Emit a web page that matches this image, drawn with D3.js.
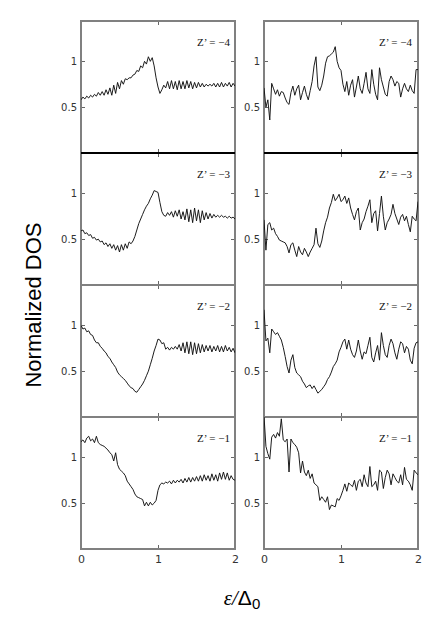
<!DOCTYPE html>
<html lang="en">

<head>
  <meta charset='utf-8'>
  <script src='https://d3js.org/d3.v7.min.js'></script>
  <title></title>
  <style>
    body {
      margin: 0;
      background: #fff;
    }

    /* Settings for axes. */

    .axis path {
      display: none;
    }

    .axis line {
      stroke: #666;
      stroke-width: 1px;
      shape-rendering: crispEdges;
    }

    .axis text {
      font-family: 'DejaVu Sans', sans-serif;
      font-size: 10px;
      fill: #333;
    }

    .frame {
      fill: none;
      stroke: #808080;
      stroke-width: 1.2px;
      shape-rendering: crispEdges;
    }

    .curve {
      fill: none;
      stroke: #111;
      stroke-width: 0.95px;
      stroke-linejoin: round;
    }

    .zlabel {
      font-family: 'Liberation Serif', serif;
      font-size: 11px;
      fill: #111;
    }
  </style>
</head>

<body>
  <div id='chart'></div>
  <script>
    // Tick labels and panel labels.

    var energyTicks = [0, 1, 2];
    var dosTicks = [0.5, 1];
    var panelLabels = ['Z\u2019 = \u22124', 'Z\u2019 = \u22123', 'Z\u2019 = \u22122', 'Z\u2019 = \u22121'];

    // Normalized DOS sampled every 0.025 in energy, from 0 to 2.

    var leftZ4 = [0.58, 0.61, 0.59, 0.62, 0.60, 0.63, 0.61, 0.64, 0.62, 0.66, 0.63, 0.67, 0.63, 0.69, 0.64, 0.71,
      0.63, 0.74, 0.65, 0.77, 0.70, 0.79, 0.75, 0.81, 0.80, 0.82, 0.82, 0.85, 0.86, 0.90, 0.89, 0.95, 0.93, 1.00,
      0.97, 1.05, 1.00, 1.04, 0.95, 0.82, 0.72, 0.65, 0.69, 0.74, 0.71, 0.78, 0.70, 0.79, 0.70, 0.78, 0.69, 0.79,
      0.70, 0.78, 0.70, 0.79, 0.71, 0.78, 0.70, 0.77, 0.71, 0.77, 0.72, 0.76, 0.72, 0.75, 0.73, 0.75, 0.73, 0.76,
      0.72, 0.76, 0.72, 0.77, 0.72, 0.76, 0.73, 0.77, 0.72, 0.76, 0.73];

    var rightZ4 = [0.71, 0.50, 0.58, 0.36, 0.76, 0.70, 0.64, 0.69, 0.62, 0.67, 0.66, 0.60, 0.55, 0.53, 0.66, 0.73,
      0.63, 0.70, 0.74, 0.58, 0.66, 0.73, 0.64, 0.58, 0.68, 0.78, 0.95, 1.05, 0.72, 0.68, 0.74, 0.84, 0.98, 1.05,
      1.06, 1.08, 1.10, 1.16, 1.00, 0.93, 0.90, 0.75, 0.67, 0.78, 0.63, 0.74, 0.80, 0.61, 0.72, 0.84, 0.70, 0.65,
      0.76, 0.88, 0.70, 0.65, 0.91, 0.75, 0.64, 0.58, 0.93, 0.80, 0.72, 0.64, 0.62, 0.78, 0.84, 0.80, 0.73, 0.78,
      0.76, 0.61, 0.70, 0.76, 0.70, 0.67, 0.74, 0.68, 0.65, 0.91, 0.91];

    var leftZ3 = [0.59, 0.60, 0.56, 0.57, 0.54, 0.55, 0.51, 0.52, 0.49, 0.50, 0.47, 0.48, 0.44, 0.46, 0.42, 0.45,
      0.40, 0.44, 0.38, 0.43, 0.36, 0.44, 0.38, 0.45, 0.40, 0.47, 0.45, 0.48, 0.53, 0.60, 0.67, 0.72, 0.77, 0.82,
      0.86, 0.89, 0.94, 0.98, 1.03, 1.02, 1.01, 0.90, 0.80, 0.76, 0.75, 0.79, 0.76, 0.80, 0.74, 0.81, 0.75, 0.82,
      0.72, 0.80, 0.71, 0.83, 0.69, 0.82, 0.68, 0.84, 0.70, 0.82, 0.68, 0.81, 0.71, 0.79, 0.72, 0.78, 0.73, 0.77,
      0.74, 0.76, 0.74, 0.76, 0.74, 0.75, 0.73, 0.75, 0.73, 0.74, 0.72];

    var rightZ3 = [0.71, 0.38, 0.66, 0.68, 0.60, 0.62, 0.56, 0.53, 0.49, 0.48, 0.47, 0.46, 0.42, 0.35, 0.44, 0.46,
      0.38, 0.31, 0.42, 0.36, 0.33, 0.40, 0.36, 0.31, 0.36, 0.40, 0.44, 0.62, 0.45, 0.41, 0.48, 0.59, 0.68, 0.74,
      0.84, 0.90, 0.99, 0.92, 0.95, 0.99, 0.91, 0.93, 0.97, 0.89, 0.95, 0.84, 0.77, 0.71, 0.80, 0.84, 0.60, 0.68,
      0.72, 0.80, 0.86, 0.93, 0.68, 0.78, 0.81, 0.59, 0.78, 0.97, 0.75, 0.60, 0.68, 0.72, 0.77, 0.88, 0.78, 0.72,
      0.66, 0.74, 0.77, 0.70, 0.75, 0.66, 0.58, 0.75, 0.72, 0.70, 0.91];

    var leftZ2 = [1.00, 0.96, 0.97, 0.93, 0.94, 0.90, 0.89, 0.84, 0.81, 0.81, 0.77, 0.75, 0.72, 0.70, 0.66, 0.64,
      0.60, 0.57, 0.54, 0.49, 0.46, 0.44, 0.42, 0.40, 0.37, 0.34, 0.32, 0.31, 0.28, 0.27, 0.30, 0.33, 0.36, 0.40,
      0.45, 0.50, 0.57, 0.64, 0.72, 0.78, 0.85, 0.84, 0.80, 0.81, 0.74, 0.76, 0.73, 0.76, 0.74, 0.77, 0.74, 0.79,
      0.72, 0.81, 0.70, 0.82, 0.69, 0.82, 0.68, 0.81, 0.69, 0.80, 0.70, 0.79, 0.71, 0.78, 0.72, 0.78, 0.71, 0.77,
      0.72, 0.78, 0.71, 0.77, 0.71, 0.78, 0.72, 0.76, 0.71, 0.75, 0.70];

    var rightZ2 = [1.17, 0.83, 0.86, 0.70, 0.96, 0.93, 0.90, 0.92, 0.88, 0.84, 0.76, 0.66, 0.55, 0.48, 0.62, 0.68,
      0.54, 0.48, 0.46, 0.44, 0.39, 0.36, 0.32, 0.34, 0.35, 0.31, 0.34, 0.30, 0.26, 0.28, 0.30, 0.33, 0.36, 0.41,
      0.44, 0.49, 0.55, 0.58, 0.62, 0.71, 0.76, 0.82, 0.85, 0.74, 0.84, 0.74, 0.68, 0.65, 0.72, 0.84, 0.72, 0.63,
      0.71, 0.69, 0.78, 0.87, 0.65, 0.60, 0.70, 0.78, 0.62, 0.92, 0.78, 0.68, 0.65, 0.78, 0.85, 0.80, 0.70, 0.63,
      0.74, 0.82, 0.80, 0.70, 0.77, 0.74, 0.62, 0.58, 0.75, 0.81, 0.82];

    var leftZ1 = [1.17, 1.19, 1.16, 1.21, 1.23, 1.18, 1.20, 1.16, 1.23, 1.16, 1.14, 1.13, 1.12, 1.10, 1.08, 1.05,
      1.03, 0.96, 1.05, 0.92, 0.87, 0.85, 0.83, 0.80, 0.74, 0.71, 0.68, 0.65, 0.60, 0.57, 0.56, 0.55, 0.54, 0.47,
      0.51, 0.47, 0.51, 0.48, 0.50, 0.53, 0.64, 0.70, 0.72, 0.71, 0.73, 0.72, 0.74, 0.71, 0.75, 0.72, 0.75, 0.73,
      0.76, 0.72, 0.77, 0.73, 0.78, 0.73, 0.78, 0.74, 0.79, 0.74, 0.80, 0.74, 0.81, 0.75, 0.80, 0.74, 0.82, 0.75,
      0.81, 0.74, 0.83, 0.76, 0.84, 0.76, 0.83, 0.75, 0.80, 0.76, 0.75];

    var rightZ1 = [1.45, 1.12, 1.04, 0.98, 1.22, 1.25, 1.21, 1.27, 1.23, 1.42, 1.19, 1.17, 1.20, 0.84, 1.20, 1.16,
      1.14, 1.11, 1.05, 0.83, 0.96, 0.84, 0.80, 0.86, 0.77, 0.82, 0.72, 0.70, 0.68, 0.53, 0.57, 0.54, 0.51, 0.57,
      0.43, 0.48, 0.47, 0.46, 0.55, 0.53, 0.58, 0.64, 0.71, 0.63, 0.72, 0.70, 0.68, 0.75, 0.64, 0.74, 0.76, 0.68,
      0.81, 0.72, 0.68, 0.90, 0.68, 0.70, 0.74, 0.64, 0.86, 0.84, 0.66, 0.78, 0.86, 0.82, 0.70, 0.82, 0.78, 0.74,
      0.72, 0.81, 0.70, 0.89, 0.76, 0.74, 0.70, 0.64, 0.86, 0.83, 0.81];

    var leftSeries = [leftZ4, leftZ3, leftZ2, leftZ1];
    var rightSeries = [rightZ4, rightZ3, rightZ2, rightZ1];

    var width = 440,
      height = 619;

    var svg = d3.select('#chart')
      .append('svg')
      .attr('width', width)
      .attr('height', height);

    // Column and row placement.

    var columns = [{
      x0: 81,
      series: leftSeries,
      labelRight: 230
    }, {
      x0: 264,
      series: rightSeries,
      labelRight: 412
    }];
    var panelW = 154;

    var rowScale = d3.scaleLinear()
      .domain([0, 4])
      .range([21, 549]);

    var panelH = rowScale(1) - rowScale(0);

    // Create scales.

    var xScale = d3.scaleLinear()
      .domain([0, 2])
      .range([0, panelW]);

    var yScale = d3.scaleLinear()
      .domain([0, 1.44])
      .range([panelH, 0]);

    // Sample index to energy.

    var sampleScale = d3.scaleLinear()
      .domain([0, leftZ4.length - 1])
      .range([0, 2]);

    var line = d3.line()
      .x(function(d, i) {
        return xScale(sampleScale(i));
      })
      .y(function(d) {
        return yScale(d);
      });

    columns.forEach(function(col, c) {
      col.series.forEach(function(values, r) {

        var g = svg.append('g')
          .attr('transform', 'translate(' + col.x0 + ',' + rowScale(r) + ')');

        var clipId = 'clip-' + c + '-' + r;

        g.append('clipPath')
          .attr('id', clipId)
          .append('rect')
          .attr('width', panelW)
          .attr('height', panelH);

        // Inward ticks on all four sides.

        g.append('g')
          .attr('class', 'axis')
          .call(d3.axisLeft(yScale)
            .tickValues(dosTicks)
            .tickSize(-4)
            .tickPadding(4)
            .tickFormat(function(d) {
              return d === 1 ? '1' : '0.5';
            }));

        g.append('g')
          .attr('class', 'axis')
          .attr('transform', 'translate(' + panelW + ',0)')
          .call(d3.axisRight(yScale)
            .tickValues(dosTicks)
            .tickSize(-4)
            .tickFormat(''));

        g.append('g')
          .attr('class', 'axis')
          .call(d3.axisTop(xScale)
            .tickValues([1])
            .tickSize(-4)
            .tickFormat(''));

        var bottom = g.append('g')
          .attr('class', 'axis')
          .attr('transform', 'translate(0,' + panelH + ')')
          .call(d3.axisBottom(xScale)
            .tickValues(r === 3 ? energyTicks : [1])
            .tickSize(-4)
            .tickPadding(6)
            .tickFormat(r === 3 ? d3.format('d') : ''));

        bottom.selectAll('text')
          .style('font-size', '11px');

        g.append('rect')
          .attr('class', 'frame')
          .attr('width', panelW)
          .attr('height', panelH);

        g.append('path')
          .datum(values)
          .attr('class', 'curve')
          .attr('clip-path', 'url(#' + clipId + ')')
          .attr('d', line);

        g.append('text')
          .attr('class', 'zlabel')
          .attr('x', col.labelRight - col.x0)
          .attr('y', 25)
          .attr('text-anchor', 'end')
          .text(panelLabels[r]);
      });

      // The heavier rule between the first and second rows.

      svg.append('line')
        .attr('x1', col.x0)
        .attr('x2', col.x0 + panelW)
        .attr('y1', rowScale(1))
        .attr('y2', rowScale(1))
        .attr('stroke', '#000')
        .attr('stroke-width', 2);
    });

    // Axis titles.

    svg.append('text')
      .attr('transform', 'translate(41,305) rotate(-90)')
      .attr('text-anchor', 'middle')
      .style('font-family', "'Liberation Sans', Arial, sans-serif")
      .style('font-size', '22px')
      .text('Normalized DOS');

    var xTitle = svg.append('text')
      .attr('x', 242)
      .attr('y', 605)
      .attr('text-anchor', 'middle')
      .style('font-size', '21px');

    xTitle.append('tspan')
      .style('font-family', "'Liberation Serif', serif")
      .style('font-style', 'italic')
      .text('\u03b5/');

    xTitle.append('tspan')
      .style('font-family', "'Liberation Sans', sans-serif")
      .text('\u0394');

    xTitle.append('tspan')
      .style('font-family', "'Liberation Sans', sans-serif")
      .style('font-size', '15px')
      .attr('dy', 4)
      .text('0');
  </script>
</body>

</html>
